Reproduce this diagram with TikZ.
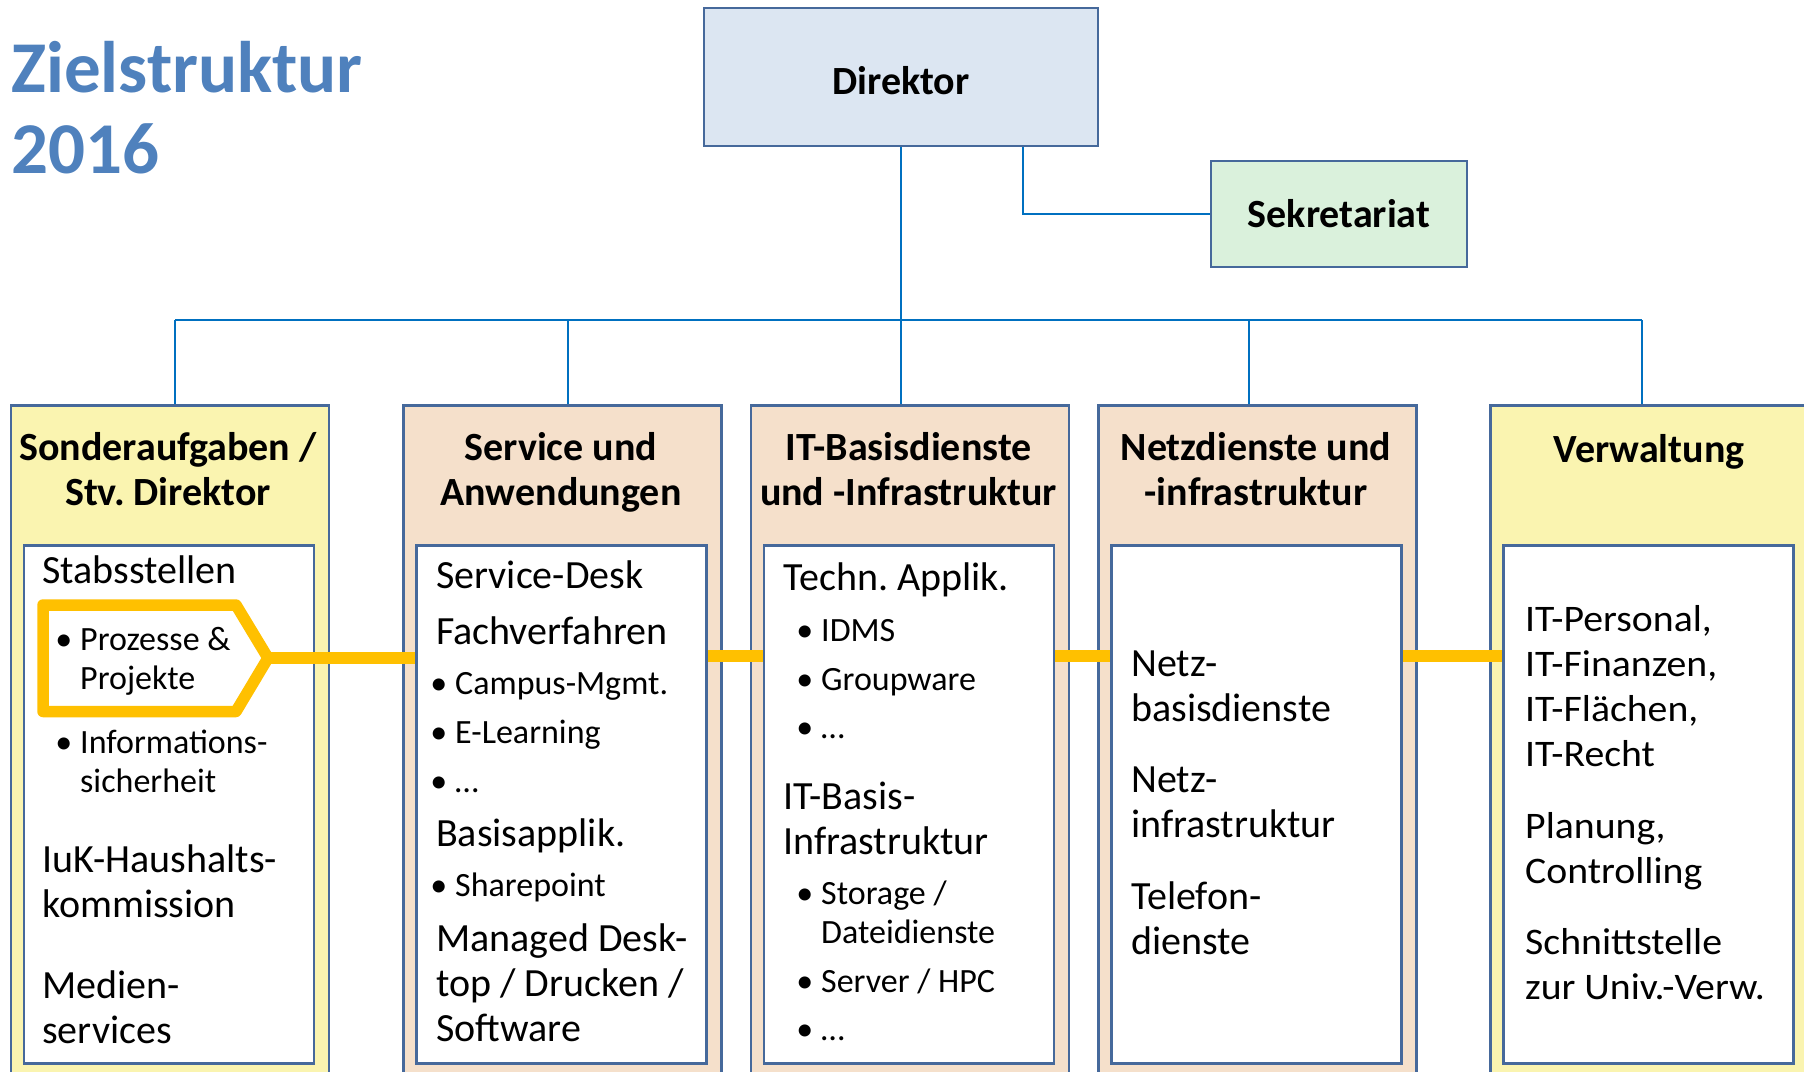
\documentclass[tikz,border=0pt]{standalone}
\usepackage{fontspec}
\setmainfont{Carlito}
\newfontfamily\breitfont[FakeStretch=1.06]{Carlito}
\frenchspacing

\definecolor{titelblau}{HTML}{4F81BD}
\definecolor{rahmen}{HTML}{46699B}
\definecolor{linie}{HTML}{0070C0}
\definecolor{gelb}{HTML}{FFC000}
\definecolor{hellblau}{HTML}{DCE6F2}
\definecolor{hellgruen}{HTML}{DAF1DC}
\definecolor{hellgelb}{HTML}{FAF4B0}
\definecolor{pfirsich}{HTML}{F5E0CB}

\tikzset{
  kasten/.style={draw=rahmen, line width=2.5pt, inner sep=0pt},
  spalte/.style={kasten, anchor=north west, minimum width=318pt, minimum height=700pt},
  innen/.style={kasten, fill=white, anchor=north west, minimum width=290pt, minimum height=518pt},
  kopf/.style={font=\bfseries\fontsize{40}{45}\selectfont, align=center, anchor=base, inner sep=0pt},
  txt/.style={font=\fontsize{40}{45}\selectfont, align=left, anchor=base west, inner sep=0pt},
  pkt/.style={font=\fontsize{34}{39}\selectfont, align=left, anchor=base west, inner sep=0pt},
  breit/.style={txt, font=\breitfont\fontsize{37.5}{45}\selectfont},
  leitung/.style={draw=linie, line width=2.5pt},
  gelbverb/.style={draw=gelb, line width=11.5pt, line join=round},
}
\newcommand{\bul}{\llap{•\hspace{8pt}}}

\begin{document}
\begin{tikzpicture}[x=1pt, y=-1pt]
  \useasboundingbox (0,0) rectangle (1804,1071);

  % Titel (Anker = letzte Zeile)
  \node[txt, font=\bfseries\fontsize{73}{81}\selectfont, text=titelblau] (titel) at (11,173) {Zielstruktur\\2016};

  % Leitung oben
  \node[kasten, fill=hellblau, minimum width=394pt, minimum height=138pt,
    font=\bfseries\fontsize{40}{45}\selectfont, text height=36pt] (direktor) at (901,77) {Direktor};
  \node[kasten, fill=hellgruen, minimum width=256pt, minimum height=106pt,
    font=\bfseries\fontsize{40}{45}\selectfont] (sekr) at (1339,214) {Sekretariat};

  % Spalten mit Innenkaesten
  \foreach \n/\x/\f in {sonder/9.5/hellgelb, service/402/pfirsich, basis/749.5/pfirsich,
                        netz/1097/pfirsich, verw/1489/hellgelb} {
    \node[spalte, fill=\f] (\n) at (\x,404) {};
    \node[innen] (\n-in) at (\x+13,544) {};
  }

  \node[kopf] (sonder-kopf) at (168,505) {Sonderaufgaben /\\Stv. Direktor};
  \node[kopf] (service-kopf) at (561,505) {Service und\\Anwendungen};
  \node[kopf] (basis-kopf) at (908.5,505) {IT-Basisdienste\\und -Infrastruktur};
  \node[kopf] (netz-kopf) at (1256,505) {Netzdienste und\\-infrastruktur};
  \node[kopf] (verw-kopf) at (1649,462) {Verwaltung};

  % Verbindungen
  \draw[leitung] (175,320) coordinate (bus-l) -- (1642,320) coordinate (bus-r);
  \draw[leitung] (direktor.south) -- (direktor.south |- bus-l);
  \draw[leitung] ([xshift=122pt]direktor.south) |- (sekr.west);
  \foreach \n/\x in {sonder/175, service/568, basis/901, netz/1249, verw/1642} {
    \coordinate (ab-\n) at (\x,320);
    \draw[leitung] (ab-\n) -- (ab-\n |- \n.north);
  }

  % gelbe Linie
  \coordinate (gelbhoehe) at (0,656);
  \draw[gelbverb] (43,605) -- (236,605) -- (268,658) coordinate (spitze) -- (236,711.5) -- (43,711.5) -- cycle;
  \draw[gelbverb] (spitze) -- (spitze -| service-in.west);
  \draw[gelbverb] (service-in.east |- gelbhoehe) -- (basis-in.west |- gelbhoehe);
  \draw[gelbverb] (basis-in.east |- gelbhoehe) -- (netz-in.west |- gelbhoehe);
  \draw[gelbverb] (netz-in.east |- gelbhoehe) -- (verw-in.west |- gelbhoehe);

  % Sonderaufgaben
  \node[txt] (stab) at (42,583.5) {Stabsstellen};
  \node[pkt] (prozesse) at (80,689) {\bul Prozesse \&\\Projekte};
  \node[pkt] (infosich) at (80,792) {\bul Informations-\\sicherheit};
  \node[txt] (iuk) at (42,917) {IuK-Haushalts-\\kommission};
  \node[txt] (medien) at (42,1043.5) {Medien-\\services};

  % Service und Anwendungen
  \node[txt] (desk) at (436,588) {Service-Desk};
  \node[txt] (fach) at (436,644) {Fachverfahren};
  \node[pkt] (campus) at (455,694) {\bul Campus-Mgmt.};
  \node[pkt] (elearn) at (455,743) {\bul E-Learning};
  \node[pkt] (fach-etc) at (455,792) {\bul …};
  \node[txt] (basisapp) at (436,846.5) {Basisapplik.};
  \node[pkt] (sharep) at (455,896.5) {\bul Sharepoint};
  \node[txt] (desktop) at (436,1041) {Managed Desk-\\top / Drucken /\\Software};

  % IT-Basisdienste
  \node[txt] (techn) at (783,590) {Techn. Applik.};
  \node[pkt] (idms) at (821,641) {\bul IDMS};
  \node[pkt] (groupw) at (821,690) {\bul Groupware};
  \node[pkt] (techn-etc) at (821,738) {\bul …};
  \node[txt] (itbasis) at (783,854) {IT-Basis-\\Infrastruktur};
  \node[pkt] (storage) at (821,943.5) {\bul Storage /\\Dateidienste};
  \node[pkt] (server) at (821,992) {\bul Server / HPC};
  \node[pkt] (infra-etc) at (821,1040) {\bul …};

  % Netzdienste
  \node[txt] (netzbasis) at (1131,721.5) {Netz-\\basisdienste};
  \node[txt] (netzinfra) at (1131,837) {Netz-\\infrastruktur};
  \node[txt] (telefon) at (1131,954) {Telefon-\\dienste};

  % Verwaltung
  \node[breit] (personal) at (1525,766) {IT-Personal,\\IT-Finanzen,\\IT-Flächen,\\IT-Recht};
  \node[breit] (planung) at (1525,883) {Planung,\\Controlling};
  \node[breit] (schnitt) at (1525,999) {Schnittstelle\\zur Univ.-Verw.};
\end{tikzpicture}
\end{document}
